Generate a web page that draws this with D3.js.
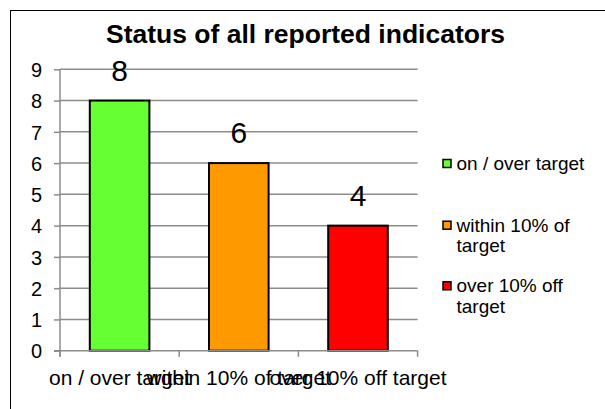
<!DOCTYPE html>
<html>
<head>
<meta charset="utf-8">
<script src="https://cdn.jsdelivr.net/npm/d3@7"></script>
<style>
	body { margin: 0; background: #fff; }
	text { font-family: "Liberation Sans", Arial, sans-serif; fill: #000; }
</style>
</head>
<body>
<svg id="svg" width="605" height="409"></svg>
<script>
var title = "Status of all reported indicators";
var categories = ["on / over target", "within 10% of target", "over 10% off target"];
var values = [8, 6, 4];
var colors = ["#66ff33", "#ff9900", "#ff0000"];
var yTicks = [0, 1, 2, 3, 4, 5, 6, 7, 8, 9];

var svg = d3.select("#svg");

// outer frame, runs off the right and bottom edge
svg.append("rect").attr("x", 10.5).attr("y", 10.5).attr("width", 700).attr("height", 500)
	.attr("fill", "none").attr("stroke", "#000").attr("stroke-width", 1);

var plot = {left: 60, right: 417.6, top: 69.3, bottom: 350.7};

var x = d3.scaleBand().domain(categories).range([plot.left, plot.right])
	.paddingInner(0.5).paddingOuter(0.25);
var y = d3.scaleLinear().domain([0, 9]).range([plot.bottom, plot.top]);

// gridlines
svg.append("g").selectAll("line").data(yTicks.filter(function(d){ return d > 0; })).enter()
	.append("line")
	.attr("x1", plot.left).attr("x2", plot.right)
	.attr("y1", function(d){ return y(d); }).attr("y2", function(d){ return y(d); })
	.attr("stroke", "#8c8c8c").attr("stroke-width", 1.5);

// y axis
var yAxis = svg.append("g").attr("transform", "translate(" + plot.left + ",0)")
	.call(d3.axisLeft(y).tickValues(yTicks).tickSize(6).tickPadding(12).tickSizeOuter(0));
yAxis.select(".domain").attr("stroke", "#8c8c8c").attr("stroke-width", 1.5)
	.attr("d", "M0," + (plot.bottom + 6) + "V" + plot.top);
yAxis.selectAll(".tick line").attr("stroke", "#8c8c8c").attr("stroke-width", 1.5);
yAxis.selectAll(".tick text").style("font-size", "20px").attr("dy", "0.36em");

// bars
svg.append("g").selectAll("rect").data(values).enter().append("rect")
	.attr("x", function(d, i){ return x(categories[i]); })
	.attr("y", function(d){ return y(d); })
	.attr("width", x.bandwidth())
	.attr("height", function(d){ return y(0) - y(d); })
	.attr("fill", function(d, i){ return colors[i]; })
	.attr("stroke", "#000").attr("stroke-width", 2);

// x axis
var xAxis = svg.append("g").attr("transform", "translate(0," + plot.bottom + ")");
xAxis.append("line").attr("x1", plot.left - 6).attr("x2", plot.right)
	.attr("y1", 0).attr("y2", 0).attr("stroke", "#8c8c8c").attr("stroke-width", 1.5);
var step = x.step();
var bounds = [plot.left].concat(categories.map(function(c){ return x(c) + x.bandwidth() + (step - x.bandwidth()) / 2; }));
xAxis.selectAll("line.tick").data(bounds).enter().append("line").attr("class", "tick")
	.attr("x1", function(d){ return d; }).attr("x2", function(d){ return d; })
	.attr("y1", 0).attr("y2", 6).attr("stroke", "#8c8c8c").attr("stroke-width", 1.5);
xAxis.selectAll("text").data(categories).enter().append("text")
	.attr("x", function(d){ return x(d) + x.bandwidth() / 2; })
	.attr("y", 34.5)
	.attr("text-anchor", "middle").style("font-size", "21px")
	.text(function(d){ return d; });

// value labels
svg.append("g").selectAll("text").data(values).enter().append("text")
	.attr("x", function(d, i){ return x(categories[i]) + x.bandwidth() / 2; })
	.attr("y", function(d){ return y(d) - 20; })
	.attr("text-anchor", "middle").style("font-size", "30px")
	.text(function(d){ return d; });

// title
svg.append("text").attr("x", 305.5).attr("y", 43)
	.attr("text-anchor", "middle").style("font-size", "26.5px").style("font-weight", "bold")
	.text(title);

// legend
var legendTop = [170, 231.7, 292.3];
var legend = svg.append("g");
categories.forEach(function(c, i){
	var g = legend.append("g");
	g.append("rect").attr("x", 443).attr("y", legendTop[i] - 10.5).attr("width", 8).attr("height", 8)
		.attr("fill", colors[i]).attr("stroke", "#000").attr("stroke-width", 1.5);
	var t = g.append("text").attr("x", 456.5).attr("y", legendTop[i]).style("font-size", "19px");
	var words = c.split(" ");
	var line = [];
	var lineNo = 0;
	var tspan = t.append("tspan").attr("x", 456.5).attr("dy", 0);
	for(var k = 0; k < words.length; k++){
		line.push(words[k]);
		tspan.text(line.join(" "));
		if(tspan.node().getComputedTextLength() > 140 && line.length > 1){
			line.pop();
			tspan.text(line.join(" "));
			line = [words[k]];
			lineNo++;
			tspan = t.append("tspan").attr("x", 456.5).attr("dy", "20.5px").text(words[k]);
		}
	}
});
</script>
</body>
</html>
